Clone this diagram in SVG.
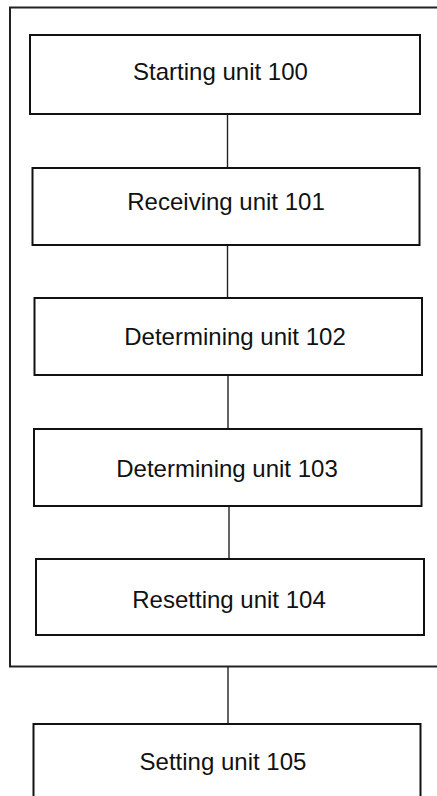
<svg xmlns="http://www.w3.org/2000/svg" width="437" height="796" viewBox="0 0 437 796">
<style>
.box{fill:#fff;stroke:#111;stroke-width:2}
.frame{fill:none;stroke:#222;stroke-width:2}
.conn{stroke:#222;stroke-width:1.4;fill:none}
.lbl{font-family:"Liberation Sans",Arial,sans-serif;font-size:24px;fill:#111;text-anchor:middle}
</style>
<rect id="frame" class="frame" x="10" y="7.5" width="440" height="659"/>
<g id="connectors">
<line class="conn" x1="227.5" y1="114" x2="227.5" y2="168"/>
<line class="conn" x1="227.5" y1="245" x2="227.5" y2="298"/>
<line class="conn" x1="228" y1="375" x2="228" y2="429"/>
<line class="conn" x1="229" y1="506" x2="229" y2="559"/>
<line class="conn" x1="228" y1="666.5" x2="228" y2="724"/>
</g>
<g id="n100"><rect class="box" x="30" y="35" width="390" height="79"/><text class="lbl" x="220.5" y="80">Starting unit 100</text></g>
<g id="n101"><rect class="box" x="32.5" y="168" width="387" height="77"/><text class="lbl" x="226" y="210">Receiving unit 101</text></g>
<g id="n102"><rect class="box" x="34.5" y="298" width="387.5" height="77"/><text class="lbl" x="235" y="345">Determining unit 102</text></g>
<g id="n103"><rect class="box" x="34" y="429" width="387.5" height="77"/><text class="lbl" x="227" y="476.5">Determining unit 103</text></g>
<g id="n104"><rect class="box" x="36" y="559" width="388" height="76"/><text class="lbl" x="229" y="608">Resetting unit 104</text></g>
<g id="n105"><rect class="box" x="33.5" y="724" width="387" height="90"/><text class="lbl" x="223" y="770">Setting unit 105</text></g>
</svg>
